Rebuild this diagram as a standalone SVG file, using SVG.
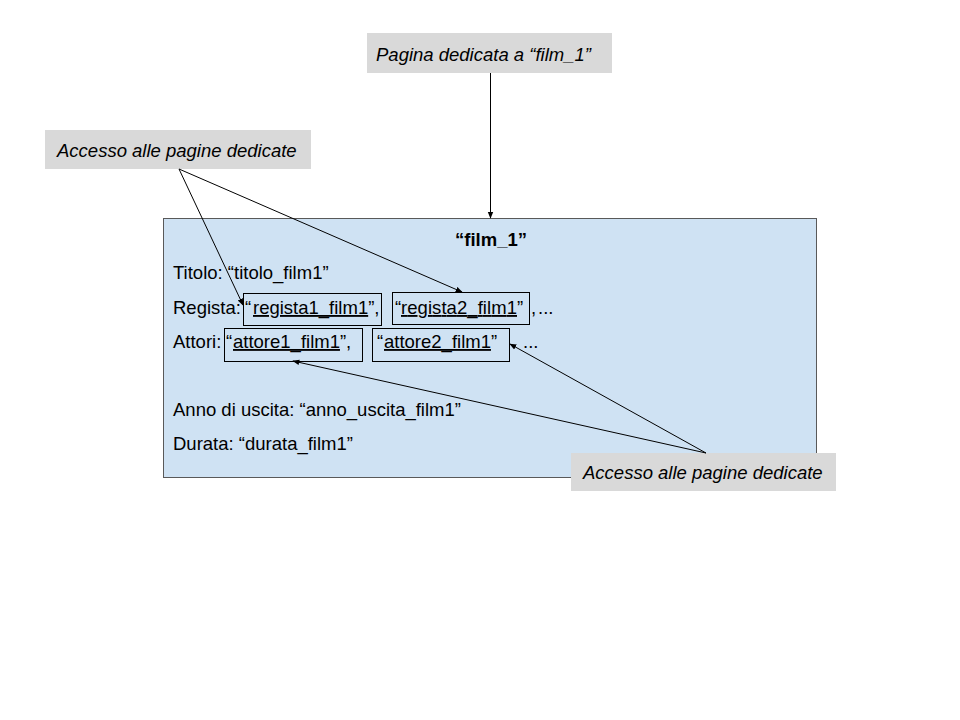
<svg xmlns="http://www.w3.org/2000/svg" width="960" height="720" viewBox="0 0 960 720">
<style>
text{font-family:"Liberation Sans",Arial,sans-serif;font-size:18.5px;fill:#000}
.note{fill:#d9d9d9}
.it{font-style:italic}
.u{text-decoration:underline}
.lbox{fill:none;stroke:#000;stroke-width:1}
.c{stroke:#000;stroke-width:1;fill:none;marker-end:url(#ah)}
</style>
<defs>
<marker id="ah" viewBox="0 0 10 10" refX="9" refY="5" markerWidth="7" markerHeight="7" orient="auto" markerUnits="userSpaceOnUse">
<path d="M0,1 L10,5 L0,9 Z" fill="#000"/>
</marker>
</defs>
<rect width="960" height="720" fill="#fff"/>
<g id="main">
<rect x="163.5" y="218.5" width="653" height="259" fill="#cfe2f3" stroke="#595959"/>
<text x="491" y="246" text-anchor="middle" font-weight="bold">“film_1”</text>
<text x="173" y="279">Titolo: “titolo_film1”</text>
<text y="314"><tspan x="173">Regista:</tspan><tspan x="245">“</tspan><tspan x="253" class="u">regista1_film1</tspan><tspan>”,</tspan></text>
<text y="314"><tspan x="395">“</tspan><tspan x="401" class="u" textLength="116" lengthAdjust="spacing">regista2_film1</tspan><tspan x="517">”</tspan><tspan x="531">,</tspan><tspan x="538">...</tspan></text>
<text y="348"><tspan x="173">Attori:</tspan><tspan x="226">“</tspan><tspan x="233" class="u">attore1_film1</tspan><tspan>”,</tspan></text>
<text y="348"><tspan x="377">“</tspan><tspan x="384" class="u">attore2_film1</tspan><tspan>”</tspan></text>
<text x="523" y="348">...</text>
<text x="173" y="416">Anno di uscita: “anno_uscita_film1”</text>
<text x="173" y="450">Durata: “durata_film1”</text>
<rect class="lbox" x="243.5" y="293.5" width="138" height="32"/>
<rect class="lbox" x="392.5" y="292.5" width="137" height="32"/>
<rect class="lbox" x="224.5" y="328.5" width="138" height="33"/>
<rect class="lbox" x="372.5" y="328.5" width="137" height="33"/>
</g>
<g id="top-note">
<rect class="note" x="367" y="33" width="245" height="40"/>
<text class="it" x="376" y="61">Pagina dedicata a “film_1”</text>
</g>
<g id="left-note">
<rect class="note" x="45" y="130" width="266" height="39"/>
<text class="it" x="57" y="157">Accesso alle pagine dedicate</text>
</g>
<g id="right-note">
<rect class="note" x="571" y="453" width="265" height="38"/>
<text class="it" x="583" y="479">Accesso alle pagine dedicate</text>
</g>
<g id="connectors">
<line class="c" x1="490.5" y1="73" x2="490.5" y2="218"/>
<line class="c" x1="179" y1="169" x2="243" y2="305"/>
<line class="c" x1="179" y1="169" x2="462" y2="292"/>
<line class="c" x1="706" y1="453" x2="293" y2="361"/>
<line class="c" x1="706" y1="453" x2="510" y2="344"/>
</g>
</svg>
